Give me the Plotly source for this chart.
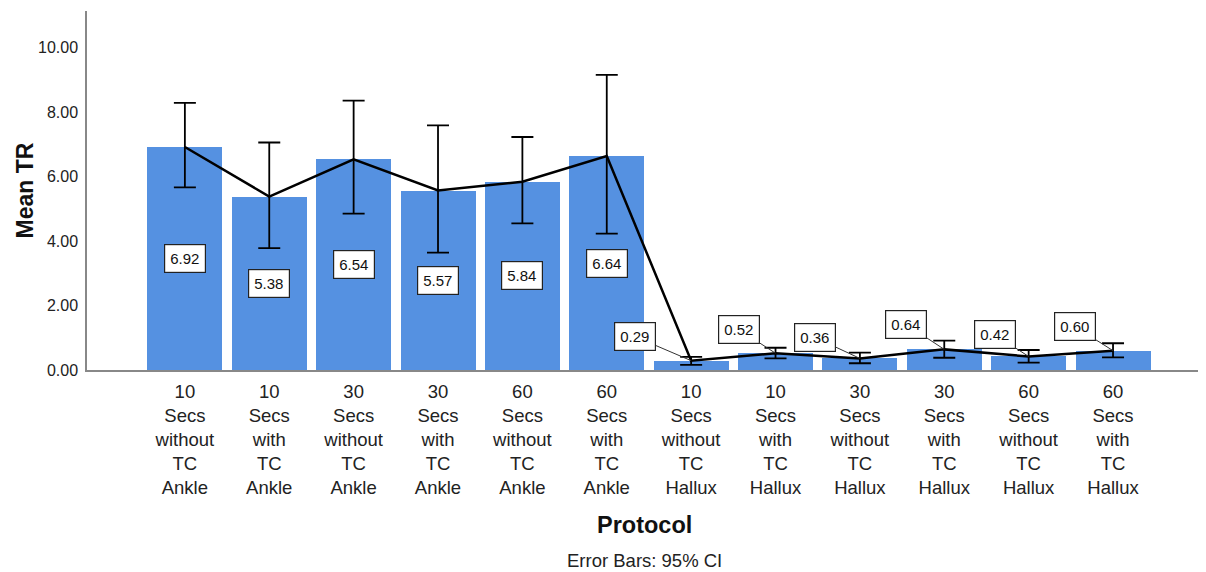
import plotly.graph_objects as go

categories = [
    "10<br>Secs<br>without<br>TC<br>Ankle",
    "10<br>Secs<br>with<br>TC<br>Ankle",
    "30<br>Secs<br>without<br>TC<br>Ankle",
    "30<br>Secs<br>with<br>TC<br>Ankle",
    "60<br>Secs<br>without<br>TC<br>Ankle",
    "60<br>Secs<br>with<br>TC<br>Ankle",
    "10<br>Secs<br>without<br>TC<br>Hallux",
    "10<br>Secs<br>with<br>TC<br>Hallux",
    "30<br>Secs<br>without<br>TC<br>Hallux",
    "30<br>Secs<br>with<br>TC<br>Hallux",
    "60<br>Secs<br>without<br>TC<br>Hallux",
    "60<br>Secs<br>with<br>TC<br>Hallux",
]
means = [6.92, 5.38, 6.54, 5.57, 5.84, 6.64, 0.29, 0.52, 0.36, 0.64, 0.42, 0.60]
ci_upper = [8.29, 7.06, 8.36, 7.59, 7.23, 9.16, 0.41, 0.69, 0.54, 0.91, 0.62, 0.83]
ci_lower = [5.67, 3.78, 4.85, 3.64, 4.55, 4.23, 0.16, 0.36, 0.21, 0.38, 0.23, 0.39]
y_ticks = [0, 2, 4, 6, 8, 10]

x_idx = list(range(len(categories)))
err_plus = [u - m for u, m in zip(ci_upper, means)]
err_minus = [m - l for m, l in zip(means, ci_lower)]

FONT = "Arial, Liberation Sans, sans-serif"
BAR = "#5591e1"

fig = go.Figure()
fig.add_trace(go.Bar(
    x=x_idx, y=means, width=0.889,
    marker=dict(color=BAR, line=dict(width=0)),
    hoverinfo="skip", showlegend=False,
))
fig.add_trace(go.Scatter(
    x=x_idx, y=means, mode="lines",
    line=dict(color="black", width=2.5),
    error_y=dict(type="data", array=err_plus, arrayminus=err_minus,
                 symmetric=False, color="black", thickness=1.8, width=11),
    hoverinfo="skip", showlegend=False,
))

annotations = []
# leader-line offsets for the small hallux labels (pixels)
hallux_offsets = [(-56, -24), (-37, -24), (-45, -21), (-38, -25), (-34, -22), (-38, -24)]
for i, m in enumerate(means):
    if i < 6:
        annotations.append(dict(
            x=i, y=m / 2, xref="x", yref="y", text=f"{m:.2f}", showarrow=False,
            font=dict(family=FONT, size=15, color="#111"),
            bgcolor="white", bordercolor="#222", borderwidth=1.2, borderpad=5,
        ))
    else:
        ax, ay = hallux_offsets[i - 6]
        annotations.append(dict(
            x=i, y=m, xref="x", yref="y", text=f"{m:.2f}", showarrow=True,
            ax=ax, ay=ay, arrowhead=0, arrowwidth=1, arrowcolor="#333", standoff=0,
            font=dict(family=FONT, size=15, color="#111"),
            bgcolor="white", bordercolor="#222", borderwidth=1.2, borderpad=5,
        ))

annotations += [
    dict(x=-0.0555, y=0.5, xref="paper", yref="paper", text="<b>Mean TR</b>",
         xanchor="center", yanchor="middle",
         textangle=-90, showarrow=False, font=dict(family=FONT, size=23, color="#111")),
    dict(x=0.4991, y=-0.4318, xref="paper", yref="paper", text="<b>Protocol</b>",
         xanchor="center", yanchor="middle",
         showarrow=False, font=dict(family=FONT, size=23.5, color="#111")),
    dict(x=0.4991, y=-0.532, xref="paper", yref="paper", text="Error Bars: 95% CI",
         xanchor="center", yanchor="middle",
         showarrow=False, font=dict(family=FONT, size=18.5, color="#222")),
]

# page body has an 8px margin, so the figure is sized to end at the viewport edge
fig.update_layout(
    width=1198, height=564,
    margin=dict(l=79, r=1, t=3, b=202, autoexpand=False),
    paper_bgcolor="white", plot_bgcolor="white",
    annotations=annotations,
    bargap=0,
)
fig.update_xaxes(
    range=[-1.16, 12.09], tickvals=x_idx, ticktext=categories,
    showline=True, linecolor="#888", linewidth=1.5, showgrid=False, zeroline=False,
    ticks="", ticklabelstandoff=4, automargin=False,
    tickfont=dict(family=FONT, size=18.5, color="#222"),
)
fig.update_yaxes(
    range=[0, 11.14], tickvals=y_ticks, ticktext=[f"{v:.2f}" for v in y_ticks],
    showline=True, linecolor="#888", linewidth=1.5, showgrid=False, zeroline=False,
    ticks="", ticklabelstandoff=4, automargin=False,
    tickfont=dict(family=FONT, size=16, color="#222"),
)

fig.write_html("out.html")
